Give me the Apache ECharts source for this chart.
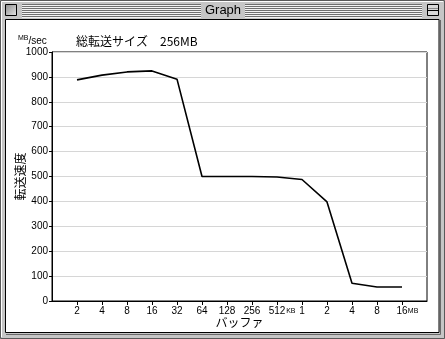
<!DOCTYPE html>
<html>
<head>
<meta charset="utf-8">
<script src="https://cdn.jsdelivr.net/npm/echarts@6/dist/echarts.min.js"></script>
<style>
html,body{margin:0;padding:0;background:#c6c6c6;}
#c{width:445px;height:339px;}
</style>
</head>
<body>
<div id="c"></div>
<script>
// Data
var bufferLabels = ['2','4','8','16','32','64','128','256','512KB','1','2','4','8','16MB'];
var speedValues  = [888, 907, 920, 924, 891, 500, 500, 500, 498, 488, 398, 71, 56, 56];
var yTicks = [0,100,200,300,400,500,600,700,800,900,1000];

var cats = [''].concat(bufferLabels).concat(['']);
var vals = [null].concat(speedValues).concat([null]);

var FONT = '"Noto Sans CJK JP", "DejaVu Sans", sans-serif';
var NUMFONT = '"Liberation Sans", "DejaVu Sans", sans-serif';

var chart = echarts.init(document.getElementById('c'), null, {renderer:'canvas'});

// window chrome
var chrome = [];
chrome.push({type:'rect', shape:{x:0.5,y:0.5,width:444,height:338}, style:{fill:'#c6c6c6', stroke:'#5a5a5a', lineWidth:1}, z:-10, silent:true});
chrome.push({type:'polyline', shape:{points:[[1.5,337],[1.5,1.5],[443,1.5]]}, style:{stroke:'#ffffff', lineWidth:1, fill:null}, z:-9, silent:true});
// title stripes
for (var yy = 4; yy <= 16; yy += 2) {
  chrome.push({type:'line', shape:{x1:22,y1:yy+0.5,x2:201,y2:yy+0.5}, style:{stroke:'#707070', lineWidth:1}, z:-8, silent:true});
  chrome.push({type:'line', shape:{x1:245,y1:yy+0.5,x2:422,y2:yy+0.5}, style:{stroke:'#707070', lineWidth:1}, z:-8, silent:true});
  chrome.push({type:'line', shape:{x1:22,y1:yy+1.5,x2:201,y2:yy+1.5}, style:{stroke:'#f4f4f4', lineWidth:1}, z:-8, silent:true});
  chrome.push({type:'line', shape:{x1:245,y1:yy+1.5,x2:422,y2:yy+1.5}, style:{stroke:'#f4f4f4', lineWidth:1}, z:-8, silent:true});
}
// close box
chrome.push({type:'rect', shape:{x:5.5,y:4.5,width:11,height:11}, style:{fill:new echarts.graphic.LinearGradient(0,0,1,1,[{offset:0,color:'#8a8a8a'},{offset:1,color:'#e8e8e8'}]), stroke:'#000', lineWidth:1}, z:-7, silent:true});
// collapse box
chrome.push({type:'rect', shape:{x:427.5,y:4.5,width:11,height:11}, style:{fill:'#d8d8d8', stroke:'#000', lineWidth:1}, z:-7, silent:true});
chrome.push({type:'line', shape:{x1:428,y1:10.5,x2:438,y2:10.5}, style:{stroke:'#000', lineWidth:1}, z:-6, silent:true});
chrome.push({type:'line', shape:{x1:428,y1:8.5,x2:438,y2:8.5}, style:{stroke:'#8a8a8a', lineWidth:1}, z:-6, silent:true});
// window title
chrome.push({type:'text', x:223, y:10, style:{text:'Graph', font:'13px '+NUMFONT, fill:'#000', align:'center', verticalAlign:'middle'}, z:-6, silent:true});
// content area
chrome.push({type:'rect', shape:{x:5.5,y:19.5,width:433.5,height:313}, style:{fill:'#ffffff', stroke:'#000', lineWidth:1}, z:-5, silent:true});
chrome.push({type:'polyline', shape:{points:[[440.5,20],[440.5,334.5],[6,334.5]]}, style:{stroke:'#6a6a6a', lineWidth:1, fill:null}, z:-5, silent:true});
// unit label
chrome.push({type:'text', x:18, y:35, style:{text:'{a|MB}{b|/sec}', rich:{a:{fontSize:7, fontFamily:NUMFONT, fill:'#000', verticalAlign:'top', lineHeight:9}, b:{fontSize:10, fontFamily:NUMFONT, fill:'#000', lineHeight:12}}}, z:5, silent:true});
// chart title
chrome.push({type:'text', x:76, y:41, style:{text:'総転送サイズ　256MB', font:'12px '+FONT, fill:'#000', verticalAlign:'middle'}, z:5, silent:true});

chart.setOption({
  animation:false,
  backgroundColor:'transparent',
  graphic: chrome,
  grid:{left:52, top:52, right:18, bottom:38, show:true, borderColor:'#000', borderWidth:1, backgroundColor:'transparent', containLabel:false, outerBoundsMode:'none'},
  xAxis:{
    type:'category', data:cats, boundaryGap:false,
    name:'バッファ', nameLocation:'middle', nameGap:15, nameMoveOverlap:false,
    nameTextStyle:{fontFamily:FONT, fontSize:12, color:'#000'},
    axisLine:{show:true, lineStyle:{color:'#000', width:1}},
    axisTick:{show:true, length:4, lineStyle:{color:'#000'}, interval:function(i){return i>0 && i<cats.length-1;}},
    axisLabel:{interval:0, margin:5, color:'#000', fontSize:10, fontFamily:NUMFONT,
      formatter:function(v){
        var m = v.match(/^(\d+)(KB|MB)$/);
        if (m) return '{p|}' + m[1] + '{s|' + m[2] + '}';
        return v;
      },
      rich:{s:{fontSize:7, fontFamily:NUMFONT, color:'#000', width:11}, p:{width:11}}
    },
    splitLine:{show:false}
  },
  yAxis:{
    type:'value', min:yTicks[0], max:yTicks[yTicks.length-1], interval:yTicks[1]-yTicks[0],
    name:'転送速度', nameLocation:'middle', nameGap:26, nameRotate:90, nameMoveOverlap:false,
    nameTextStyle:{fontFamily:FONT, fontSize:12, color:'#000'},
    axisLine:{show:true, lineStyle:{color:'#000', width:1}},
    axisTick:{show:true, length:3, lineStyle:{color:'#000'}},
    axisLabel:{margin:4, color:'#000', fontSize:10, fontFamily:NUMFONT, formatter:function(v){return String(v);}},
    splitLine:{show:true, lineStyle:{color:'#d6d6d6', width:1}}
  },
  series:[{
    type:'line', data:vals, showSymbol:false, symbol:'none', connectNulls:false,
    lineStyle:{color:'#000', width:1.6}, z:3
  }]
});
</script>
</body>
</html>
